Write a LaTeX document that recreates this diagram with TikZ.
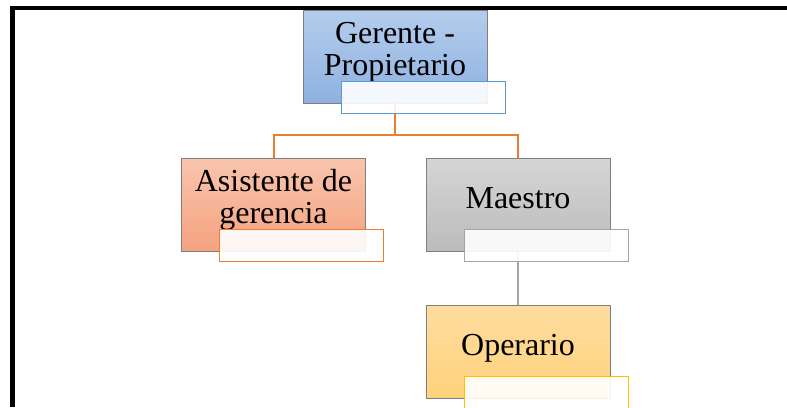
\documentclass[tikz,border=0pt]{standalone}
\usepackage{fontspec}
\setmainfont{Liberation Serif}
\usepackage{xcolor}
\definecolor{gerTop}{HTML}{B4CDEC}
\definecolor{gerBot}{HTML}{8EB1E1}
\definecolor{asiTop}{HTML}{F9C5AE}
\definecolor{asiBot}{HTML}{F4A27F}
\definecolor{maeTop}{HTML}{D5D5D5}
\definecolor{maeBot}{HTML}{BCBCBC}
\definecolor{opeTop}{HTML}{FFDDA0}
\definecolor{opeBot}{HTML}{FFD27B}
\definecolor{boxLine}{HTML}{7F7F7F}
\definecolor{blueLine}{HTML}{5B9BD5}
\definecolor{orangeLine}{HTML}{ED7D31}
\definecolor{grayLine}{HTML}{A5A5A5}
\definecolor{goldLine}{HTML}{FFC000}
\tikzset{
  unit/.style={draw=boxLine, line width=0.8pt, minimum width=184pt, minimum height=93pt,
    inner sep=0pt, align=center, font=\fontsize{32}{32}\selectfont},
  oneline/.style={text height=22pt, text depth=14pt},
  twolines/.style={text height=54pt, text depth=17pt},
  notebox/.style={draw=#1, line width=0.8pt, fill=white, fill opacity=0.9,
    minimum width=164pt, minimum height=32pt, inner sep=0pt,
    anchor=south east, xshift=18pt, yshift=-10pt},
  link/.style={line width=2pt}
}
\begin{document}
\begin{tikzpicture}[x=1pt, y=-1pt]
  \useasboundingbox (0,0) rectangle (787,407);
  \clip (0,0) rectangle (787,407);

  \draw[line width=4.5pt] (12.5,407) -- (12.5,8) -- (787,8);

  \node[unit, twolines, top color=gerTop, bottom color=gerBot] (ger) at (395,56.5) {Gerente -\\Propietario};
  \node[unit, twolines, top color=asiTop, bottom color=asiBot] (asi) at (273.5,204.5) {Asistente de\\gerencia};
  \node[unit, oneline, top color=maeTop, bottom color=maeBot] (mae) at (518,204.5) {Maestro};
  \node[unit, oneline, top color=opeTop, bottom color=opeBot] (ope) at (518,351.5) {Operario};

  % lines run under the small boxes
  \draw[link, orangeLine] (ger.south) -- ++(0,32) -| (asi.north);
  \draw[link, orangeLine] (ger.south) -- ++(0,32) -| (mae.north);
  \draw[link, grayLine] (mae.south) -- (ope.north);

  \node[notebox=blueLine] (gerNote) at (ger.south east) {};
  \node[notebox=orangeLine] (asiNote) at (asi.south east) {};
  \node[notebox=grayLine] (maeNote) at (mae.south east) {};
  \node[notebox=goldLine] (opeNote) at (ope.south east) {};
\end{tikzpicture}
\end{document}
